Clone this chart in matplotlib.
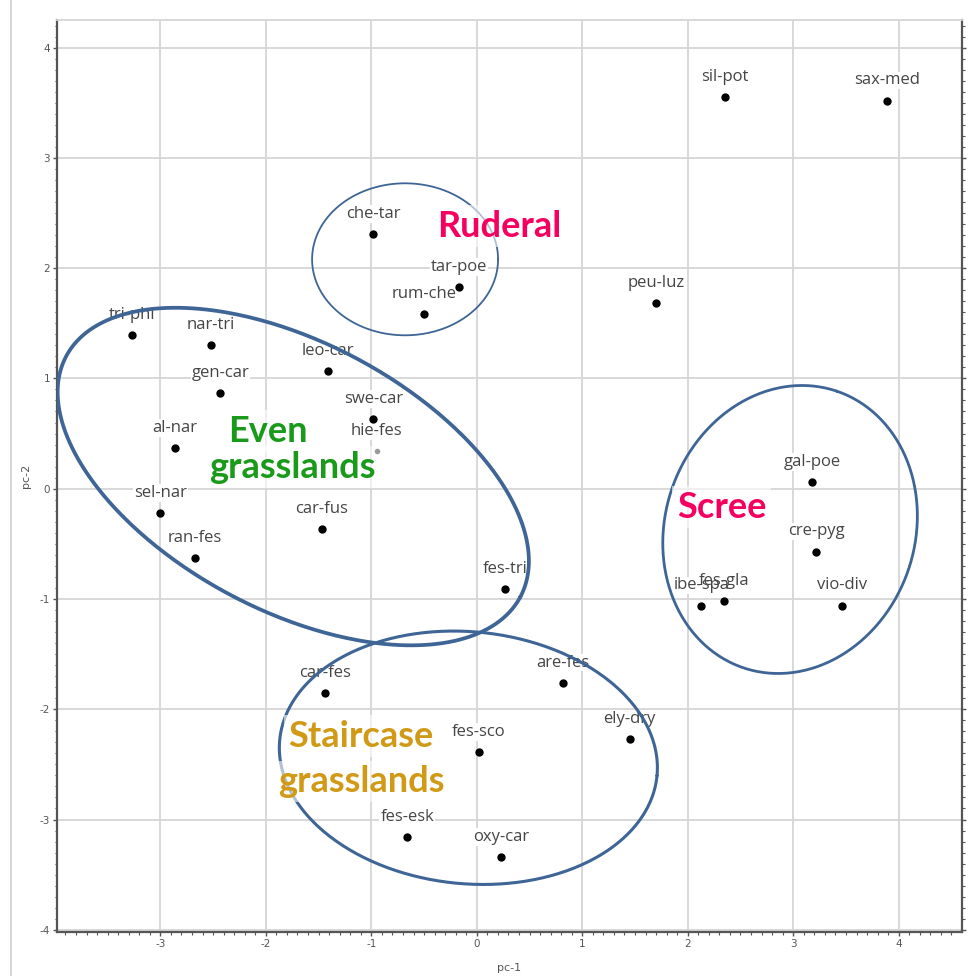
import numpy as np
import matplotlib
matplotlib.use("Agg")
import matplotlib.pyplot as plt
from matplotlib.lines import Line2D

# ---- data ----
species = ["tri-phi", "nar-tri", "gen-car", "leo-car", "swe-car", "hie-fes", "al-nar",
           "sel-nar", "ran-fes", "car-fus", "fes-tri", "car-fes", "fes-sco", "fes-esk",
           "oxy-car", "are-fes", "ely-dry", "che-tar", "tar-poe", "rum-che", "peu-luz",
           "sil-pot", "sax-med", "gal-poe", "cre-pyg", "vio-div", "ibe-spa", "fes-gla"]
pc1 = [-3.27, -2.52, -2.43, -1.41, -0.98, -0.95, -2.86,
       -3.00, -2.67, -1.47, 0.27, -1.44, 0.02, -0.66,
       0.23, 0.82, 1.45, -0.98, -0.17, -0.50, 1.70,
       2.35, 3.89, 3.18, 3.22, 3.46, 2.13, 2.34]
pc2 = [1.39, 1.30, 0.87, 1.07, 0.63, 0.34, 0.37,
       -0.22, -0.63, -0.37, -0.91, -1.85, -2.39, -3.16,
       -3.34, -1.76, -2.27, 2.31, 1.83, 1.58, 1.68,
       3.55, 3.52, 0.06, -0.57, -1.06, -1.06, -1.02]
faint = ["hie-fes"]

group_lines = ["Ruderal", "Even", "grasslands", "Scree", "Staircase", "grasslands"]
group_colors = ["#F5005F", "#1A9A1A", "#1A9A1A", "#F5005F", "#D09A16", "#D09A16"]

xticks = [-3, -2, -1, 0, 1, 2, 3, 4]
yticks = [-4, -3, -2, -1, 0, 1, 2, 3, 4]

# ---- figure ----
W, H, DPI = 969, 976, 100
fig = plt.figure(figsize=(W / DPI, H / DPI), dpi=DPI)
L, R, T, B = 57, 962, 20, 932
ax = fig.add_axes([L / W, (H - B) / H, (R - L) / W, (B - T) / H])
xlim = (-3.98, 4.60)
ylim = (-4.02, 4.25)
ax.set_xlim(*xlim)
ax.set_ylim(*ylim)
sx = (R - L) / (xlim[1] - xlim[0])   # px per x unit
sy = (B - T) / (ylim[1] - ylim[0])   # px per y unit

# grid / spines / ticks
ax.set_xticks(xticks)
ax.set_yticks(yticks)
ax.set_xticks(np.arange(-3.9, 4.6, 0.1), minor=True)
ax.set_yticks(np.arange(-4.0, 4.25, 0.1), minor=True)
ax.grid(True, which="major", color="#d6d6d6", lw=1.3, zorder=0)
ax.set_axisbelow(True)
for s in ["left", "bottom", "right"]:
    ax.spines[s].set_color("#555555")
    ax.spines[s].set_linewidth(1.6)
ax.spines["top"].set_color("#d6d6d6")
ax.spines["top"].set_linewidth(1.3)
ax.tick_params(which="major", direction="out", length=3, width=1, color="#555555",
               labelsize=7.5, labelcolor="#555555", pad=2, right=True, labelright=True)
ax.tick_params(which="minor", direction="out", length=1.8, width=0.8, color="#555555",
               right=True)
ax.set_xticklabels([str(v) for v in xticks])
ax.set_yticklabels([str(v) for v in yticks])
ax.set_xlabel("pc-1", fontsize=8, color="#555555", labelpad=10)
ax.set_ylabel("pc-2", fontsize=8, color="#555555", labelpad=6)

LABEL_FONT = ["Open Sans", "DejaVu Sans"]
# points and labels
for name, x, y in zip(species, pc1, pc2):
    if name in faint:
        ax.scatter([x], [y], s=16, color="#9a9a9a", zorder=5, linewidths=0)
    else:
        ax.scatter([x], [y], s=36, color="black", zorder=5, linewidths=0)
    # white background (hides grid only) drawn under all label texts
    ax.annotate(name, (x, y), xytext=(0, 14.5), textcoords="offset points",
                ha="center", va="center", fontsize=12, family=LABEL_FONT,
                color="none", zorder=1.8,
                bbox=dict(boxstyle="square,pad=0.05", fc="white", ec="none"))
    ax.annotate(name, (x, y), xytext=(0, 14.5), textcoords="offset points",
                ha="center", va="center", fontsize=12, family=LABEL_FONT,
                color="#454545", zorder=2)

# ellipses (center in data, semi-axes in px, angle in screen degrees)
def draw_ellipse(cx, cy, a_px, b_px, ang_deg, lw):
    t = np.linspace(0, 2 * np.pi, 400)
    th = np.deg2rad(ang_deg)
    dx = a_px * np.cos(t) * np.cos(th) - b_px * np.sin(t) * np.sin(th)
    dy = a_px * np.cos(t) * np.sin(th) + b_px * np.sin(t) * np.cos(th)
    ax.plot(cx + dx / sx, cy + dy / sy, color="#3E6595", lw=lw, zorder=3,
            solid_capstyle="round")

draw_ellipse(-0.68, 2.08, 93, 76, 0, 1.3)          # Ruderal
draw_ellipse(-1.74, 0.11, 257, 134, -27.9, 2.7)    # Even grasslands
draw_ellipse(2.97, -0.37, 146, 125, 71.4, 2.0)     # Scree
draw_ellipse(-0.08, -2.44, 189.5, 126, -5.4, 2.2)  # Staircase

# group labels (one text per line, baseline positions)
glabel_pos = [(0.215, 2.285), (-1.98, 0.425), (-1.75, 0.10),
              (2.32, -0.263), (-1.10, -2.34), (-1.09, -2.75)]
for txt, col, (gx, gy) in zip(group_lines, group_colors, glabel_pos):
    ax.text(gx, gy, txt, ha="center", va="baseline",
            fontsize=26, fontweight="bold", family=["Lato", "DejaVu Sans"], color=col,
            zorder=4,
            bbox=dict(boxstyle="square,pad=0.12", fc="white", ec="none", alpha=0.6))

# outer border line of the screenshot
fig.add_artist(Line2D([11 / W, 11 / W], [0, 1], color="#d0d0d0", lw=1.2,
                      transform=fig.transFigure))

fig.savefig("out.png", dpi=DPI)
